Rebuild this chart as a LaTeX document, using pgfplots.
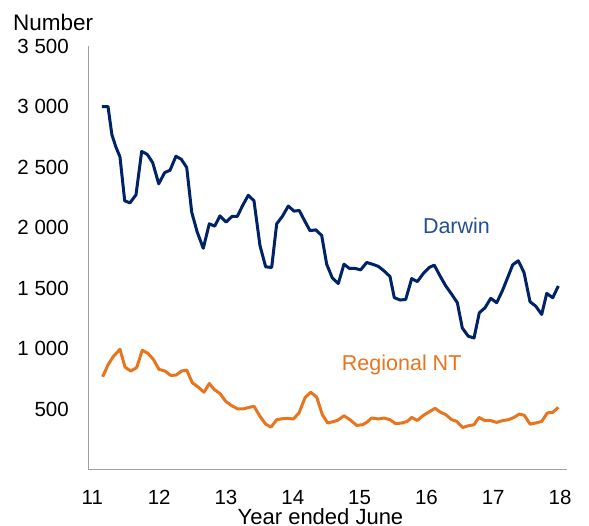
\documentclass[border=0pt]{standalone}
\usepackage{fontspec}
\setmainfont{Liberation Sans}
\usepackage{pgfplots}
\pgfplotsset{compat=1.18}
\usetikzlibrary{calc}
\definecolor{navy}{HTML}{002266}
\definecolor{navylbl}{HTML}{24508F}
\definecolor{orng}{HTML}{E8741E}
\definecolor{axgray}{HTML}{A0A0A0}
\begin{document}
\begin{tikzpicture}
\begin{axis}[
  scale only axis,
  width=478.4pt, height=424pt,
  xmin=10.939, xmax=18.1,
  ymin=0, ymax=3500,
  axis x line*=bottom, axis y line*=left,
  axis line style={axgray, line width=1pt},
  xtick={11,12,13,14,15,16,17,18},
  ytick={500,1000,1500,2000,2500,3000,3500},
  yticklabels={500,1~000,1~500,2~000,2~500,3~000,3~500},
  major tick length=0pt,
  tick style={draw=none},
  /pgf/number format/assume math mode=true,
  ticklabel style={font=\fontsize{20.5}{24}\selectfont},
  yticklabel style={xshift=-16pt},
  xticklabel style={yshift=-17pt},
  xlabel={Year ended June},
  xlabel style={font=\fontsize{22}{26}\selectfont, at={(axis description cs:0.5,0)}, anchor=base, yshift=-55pt, xshift=-7pt},
  clip=false,
]
\addplot[navy, line width=3pt, line join=round] coordinates {
(11.144,3000) (11.234,3000) (11.293,2765) (11.353,2665) (11.413,2585)
(11.484,2222) (11.563,2205) (11.653,2272) (11.738,2630) (11.822,2605)
(11.903,2537) (11.993,2362) (12.082,2455) (12.162,2474) (12.251,2590)
(12.331,2565) (12.412,2497) (12.487,2128) (12.570,1963) (12.660,1830)
(12.750,2032) (12.831,2013) (12.910,2098) (13.000,2046) (13.090,2093)
(13.169,2093) (13.250,2184) (13.334,2268) (13.419,2222) (13.509,1852)
(13.594,1677) (13.684,1672) (13.759,2032) (13.843,2093) (13.933,2179)
(14.018,2137) (14.097,2142) (14.183,2051) (14.257,1976) (14.347,1982)
(14.433,1935) (14.507,1699) (14.591,1586) (14.681,1539) (14.766,1699)
(14.846,1664) (14.931,1664) (15.016,1652) (15.106,1713) (15.190,1699)
(15.280,1681) (15.365,1644) (15.455,1597) (15.519,1423) (15.605,1403)
(15.690,1408) (15.780,1580) (15.864,1555) (15.954,1622) (16.043,1672)
(16.118,1691) (16.204,1602) (16.290,1519) (16.379,1450) (16.463,1381)
(16.537,1173) (16.627,1104) (16.713,1090) (16.792,1298) (16.877,1339)
(16.963,1417) (17.052,1381) (17.136,1478) (17.217,1589) (17.292,1694)
(17.376,1727) (17.461,1630) (17.551,1389) (17.636,1353) (17.726,1284)
(17.801,1458) (17.891,1422) (17.975,1519)
};
\addplot[orng, line width=3pt, line join=round] coordinates {
(11.154,770) (11.238,872) (11.313,936) (11.413,997) (11.488,850)
(11.573,817) (11.663,845) (11.747,989) (11.828,964) (11.912,914)
(11.997,831) (12.087,817) (12.172,781) (12.251,783) (12.337,817)
(12.412,825) (12.496,720) (12.585,684) (12.671,642) (12.750,714)
(12.825,664) (12.910,631) (12.996,567) (13.085,531) (13.175,504)
(13.259,504) (13.344,517) (13.419,526) (13.509,443) (13.594,379)
(13.674,354) (13.759,415) (13.843,423) (13.924,426) (14.008,421)
(14.093,471) (14.183,596) (14.268,642) (14.358,601) (14.442,457)
(14.522,388) (14.606,399) (14.677,412) (14.766,448) (14.856,415)
(14.957,368) (15.046,374) (15.110,395) (15.181,429) (15.280,421)
(15.365,429) (15.455,415) (15.540,382) (15.630,388) (15.714,401)
(15.780,434) (15.864,409) (15.954,451) (16.039,479) (16.129,509)
(16.204,479) (16.289,457) (16.379,415) (16.454,401) (16.543,351)
(16.627,365) (16.713,374) (16.787,434) (16.877,407) (16.967,407)
(17.052,393) (17.136,407) (17.226,415) (17.311,434) (17.391,462)
(17.466,451) (17.551,379) (17.636,388) (17.726,401) (17.810,471)
(17.891,476) (17.975,517)
};
\node[navylbl, anchor=base, font=\fontsize{21.5}{25}\selectfont] at (axis cs:16.45,1949) {Darwin};
\node[orng, anchor=base, font=\fontsize{21.5}{25}\selectfont] at (axis cs:15.63,823) {Regional NT};
\end{axis}
\node[anchor=base west, font=\fontsize{22.5}{26}\selectfont, inner sep=0pt] at ($(current axis.north west)+(-75.3pt,15pt)$) {Number};
\pgfresetboundingbox
\path[use as bounding box] ($(current axis.south west)+(-88.3pt,-56pt)$) rectangle ($(current axis.north east)+(22.3pt,46pt)$);
\end{tikzpicture}
\end{document}
